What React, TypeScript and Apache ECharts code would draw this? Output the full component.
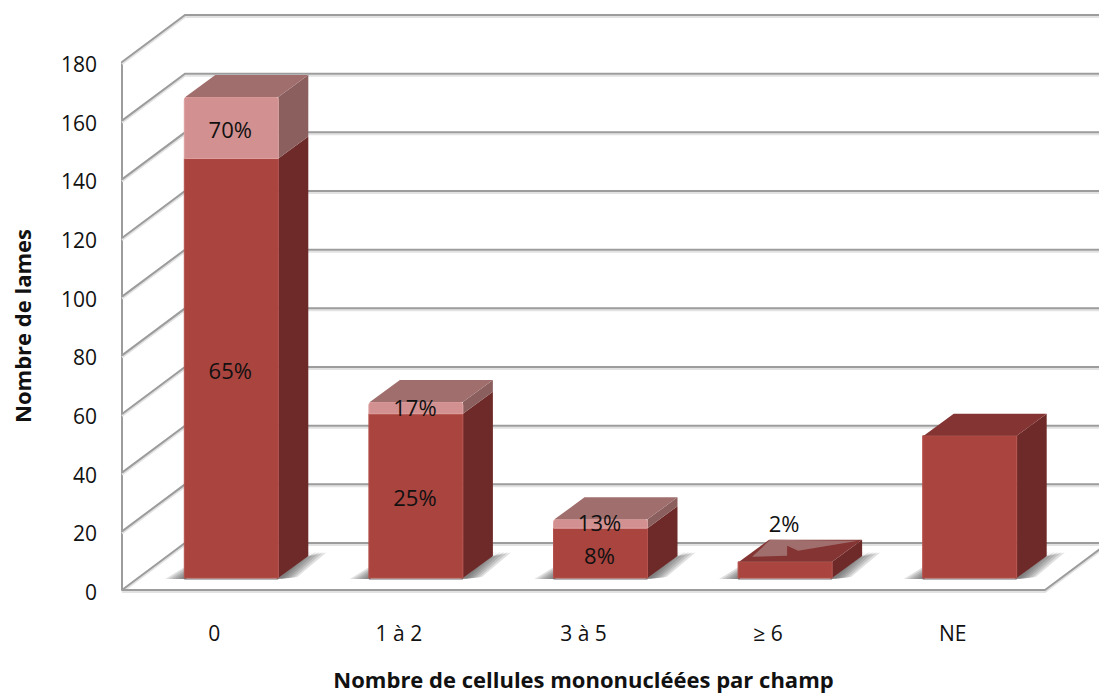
import React, { useEffect, useRef } from "react";
import * as echarts from "echarts";

const categories = ["0", "1 à 2", "3 à 5", "≥ 6", "NE"];
const lowerValues = [143, 56, 17, 5.5, 48.5];
const upperValues = [21, 4, 3, 0, 0];
const lowerLabels = ["65%", "25%", "8%", "", ""];
const upperLabels = ["70%", "17%", "13%", "2%", ""];
const upperLabelValues = [153.2, 58.3, 19.2, 18.7, 0];
const gridValues = [0, 20, 40, 60, 80, 100, 120, 140, 160, 180];

const FONT = "'Open Sans', Lato, sans-serif";
const FONT_SIZE = 21;
const TITLE_SIZE = 22;
const WALL = { dx: 63, dy: -47 };
const BAR = { width: 94, shift: 17, lift: 12, dx: 30, dy: -22 };
const LINE = "#9C9C9C";
const LINE_SOFT = "#E2E2E2";
const FACE = {
  front: "#A9443F",
  side: "#6E2A28",
  top: "#843533",
  frontLight: "#D29090",
  sideLight: "#8A5F5E",
  topLight: "#A06E6D",
  bevel: "#B5524D",
  bevelLight: "#DDA0A0",
};

const poly = (points: number[][], fill: string, extra: any = {}) => ({
  type: "polygon",
  shape: { points },
  style: { fill, ...extra },
});

const lineWithGlow = (points: number[][]) => ({
  type: "group",
  children: [
    {
      type: "polyline",
      shape: { points: points.map(([a, b]) => [a, b + 2]) },
      style: { stroke: LINE_SOFT, lineWidth: 2, fill: "none" },
    },
    {
      type: "polyline",
      shape: { points },
      style: { stroke: LINE, lineWidth: 2, fill: "none" },
    },
  ],
});

function renderGrid(params: any, api: any) {
  const v = api.value(1);
  const p = api.coord([0, v]);
  const x0 = params.coordSys.x;
  const y = p[1];
  return lineWithGlow([
    [x0, y],
    [x0 + WALL.dx, y + WALL.dy],
    [1110, y + WALL.dy],
  ]);
}

function renderFloorEdge(params: any) {
  const { x, y, width, height } = params.coordSys;
  const fy = y + height;
  const rx = x + width;
  return lineWithGlow([
    [x, fy],
    [rx, fy],
    [rx + WALL.dx, fy + WALL.dy],
  ]);
}

function renderShadow(_params: any, api: any) {
  const i = api.value(0);
  const p = api.coord([i, 0]);
  const x0 = p[0] + BAR.shift - BAR.width / 2;
  const x1 = x0 + BAR.width;
  const y = p[1] - BAR.lift;
  const children: any[] = [];
  const tint = "rgba(70,70,70,0.17)";
  for (let k = 0; k < 6; k++) {
    children.push(
      poly(
        [
          [x0 + 2, y + 1],
          [x0 - 2 - k * 3.4, y + 1],
          [x0 + 2, y - 4 - k * 1.6],
        ],
        tint
      ),
      poly(
        [
          [x1 - 2, y + 1],
          [x1 + BAR.dx - 2, y + BAR.dy + 1],
          [x1 + BAR.dx + 2 + k * 3.2, y + BAR.dy - 5 + k * 0.3],
          [x1 + 4 + k * 3, y + 1 - k * 0.4],
        ],
        tint
      )
    );
  }
  children.push({
    type: "rect",
    shape: { x: x0, y: y, width: BAR.width, height: 2 },
    style: { fill: "rgba(90,90,90,0.45)" },
  });
  return { type: "group", children };
}

function renderBar(_params: any, api: any) {
  const i = api.value(0);
  const low = api.value(1);
  const up = api.value(2);
  const base = api.coord([i, 0]);
  const split = api.coord([i, low]);
  const top = api.coord([i, low + up]);
  const x0 = base[0] + BAR.shift - BAR.width / 2;
  const x1 = x0 + BAR.width;
  const yb = base[1] - BAR.lift;
  const ys = split[1] - BAR.lift;
  const yt = top[1] - BAR.lift;
  const d = BAR.dx;
  const e = BAR.dy;
  const hasUpper = up > 0;
  const children: any[] = [
    poly([[x1, yb], [x1 + d, yb + e], [x1 + d, ys + e], [x1, ys]], FACE.side),
    {
      type: "rect",
      shape: { x: x0, y: ys, width: BAR.width, height: yb - ys },
      style: { fill: FACE.front, stroke: FACE.bevel, lineWidth: 1 },
    },
  ];
  if (hasUpper) {
    children.push(
      poly([[x1, ys], [x1 + d, ys + e], [x1 + d, yt + e], [x1, yt]], FACE.sideLight),
      {
        type: "rect",
        shape: { x: x0, y: yt, width: BAR.width, height: ys - yt, r: [3, 3, 0, 0] },
        style: { fill: FACE.frontLight, stroke: FACE.bevelLight, lineWidth: 1 },
      },
      poly([[x0 + 1, yt], [x1, yt], [x1 + d, yt + e], [x0 + d + 1, yt + e]], FACE.topLight)
    );
  } else {
    children.push(poly([[x0 + 1, yt], [x1, yt], [x1 + d, yt + e], [x0 + d + 1, yt + e]], FACE.top));
    if (upperLabels[i]) {
      // pale residue of the nearly empty upper segment, lying on the top face
      children.push(
        poly(
          [
            [x0 + 14, yt - 5],
            [x0 + 49, yt - 6],
            [x0 + 49, yt - 16],
            [x0 + 60, yt - 11],
            [x1 + 26, yt - 21],
            [x0 + 32, yt - 22],
          ],
          FACE.topLight
        )
      );
    }
  }
  const cx = (x0 + x1) / 2;
  const textStyle = {
    fill: "#111",
    font: `${TITLE_SIZE}px ${FONT}`,
    align: "center",
    verticalAlign: "middle",
  };
  if (lowerLabels[i]) {
    children.push({
      type: "text",
      style: { ...textStyle, text: lowerLabels[i], x: cx - 1, y: (ys + yb) / 2 + 1.5 },
    });
  }
  if (upperLabels[i]) {
    const ly = api.coord([i, upperLabelValues[i]])[1] - BAR.lift;
    children.push({
      type: "text",
      style: { ...textStyle, text: upperLabels[i], x: cx - 1, y: ly },
    });
  }
  return { type: "group", children };
}

export default function App() {
  const ref = useRef<HTMLDivElement>(null);
  useEffect(() => {
    document.body.style.margin = "0";
    document.body.style.background = "#fff";
    const chart = echarts.init(ref.current!, null, { renderer: "svg" });
    const barData = categories.map((_, i) => [i, lowerValues[i], upperValues[i]]);
    chart.setOption({
      animation: false,
      backgroundColor: "#fff",
      grid: { left: 122, top: 62, width: 923, height: 528, outerBoundsMode: "none" },
      xAxis: {
        type: "category",
        data: categories,
        axisLine: { show: false },
        axisTick: { show: false },
        axisLabel: { margin: 32, fontFamily: FONT, fontSize: FONT_SIZE, color: "#111" },
        splitLine: { show: false },
        name: "Nombre de cellules mononucléées par champ",
        nameLocation: "middle",
        nameGap: 77,
        nameTextStyle: { fontFamily: FONT, fontSize: TITLE_SIZE, lineHeight: 24, fontWeight: "bold", color: "#111" },
      },
      yAxis: {
        type: "value",
        min: 0,
        max: 180,
        interval: 20,
        axisLine: { show: true, lineStyle: { color: LINE, width: 2 } },
        axisTick: { show: false },
        splitLine: { show: false },
        axisLabel: { margin: 25, fontFamily: FONT, fontSize: FONT_SIZE, color: "#111", verticalAlign: "top", lineHeight: 4 },
        name: "Nombre de lames",
        nameLocation: "middle",
        nameGap: 88,
        nameTextStyle: { fontFamily: FONT, fontSize: TITLE_SIZE, lineHeight: 24, fontWeight: "bold", color: "#111" },
      },
      series: [
        { type: "custom", renderItem: renderGrid, data: gridValues.map((v) => [0, v]), encode: { x: 0, y: 1 }, silent: true, z: 1 },
        { type: "custom", renderItem: renderFloorEdge, data: [[0, 0]], encode: { x: 0, y: 1 }, silent: true, z: 2 },
        { type: "custom", renderItem: renderShadow, data: barData, encode: { x: 0, y: 1 }, silent: true, z: 3 },
        { type: "custom", renderItem: renderBar, data: barData, encode: { x: 0, y: 1 }, silent: true, z: 4 },
      ],
    });
    return () => chart.dispose();
  }, []);
  return <div ref={ref} style={{ width: 1099, height: 695 }} />;
}
